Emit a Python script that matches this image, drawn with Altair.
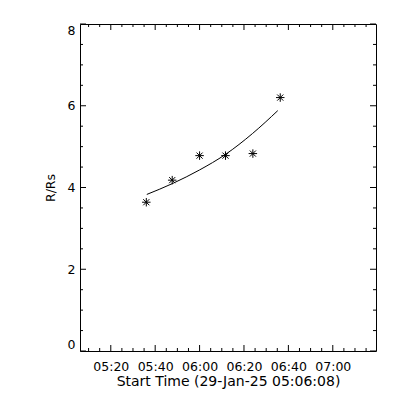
import altair as alt
import pandas as pd

# Observed points (time, R/Rs)
obs_times = ["2025-01-29T05:36:00", "2025-01-29T05:47:40", "2025-01-29T06:00:00",
             "2025-01-29T06:11:40", "2025-01-29T06:24:00", "2025-01-29T06:36:20"]
obs_r = [3.64, 4.18, 4.78, 4.78, 4.83, 6.20]

# Fitted curve
fit_times = ["2025-01-29T05:36:13", "2025-01-29T05:47:56", "2025-01-29T06:00:00",
             "2025-01-29T06:11:40", "2025-01-29T06:23:50", "2025-01-29T06:35:13"]
fit_r = [3.83, 4.10, 4.43, 4.81, 5.32, 5.88]

x_major = ["2025-01-29T05:20:00", "2025-01-29T05:40:00", "2025-01-29T06:00:00",
           "2025-01-29T06:20:00", "2025-01-29T06:40:00", "2025-01-29T07:00:00"]
x_minor = ["2025-01-29T05:%02d:00" % m for m in (10, 15, 25, 30, 35, 45, 50, 55)] + \
          ["2025-01-29T06:%02d:00" % m for m in (5, 10, 15, 25, 30, 35, 45, 50, 55)] + \
          ["2025-01-29T07:%02d:00" % m for m in (5, 10, 15)]
y_major = [0, 2, 4, 6, 8]
y_minor = [0.5, 1, 1.5, 2.5, 3, 3.5, 4.5, 5, 5.5, 6.5, 7, 7.5]

x_domain = [alt.DateTime(year=2025, month=1, date=29, hours=5, minutes=6, seconds=8),
            alt.DateTime(year=2025, month=1, date=29, hours=7, minutes=19, seconds=28)]

W, H = 296, 327
FONT = "DejaVu Sans"

xscale = alt.Scale(domain=x_domain)
yscale = alt.Scale(domain=[0, 8], nice=False, zero=False)

obs = pd.DataFrame({"t": obs_times, "r": obs_r})
fit = pd.DataFrame({"t": fit_times, "r": fit_r})

star = "M-1,0L1,0M0,-1L0,1M-0.72,-0.72L0.72,0.72M-0.72,0.72L0.72,-0.72"

base_x = alt.X("t:T", scale=xscale,
               axis=alt.Axis(values=x_major, format="%H:%M", tickSize=0, domain=False,
                             grid=False, labelPadding=9, labelFontSize=12.5, labelFont=FONT,
                             labelColor="black", title="Start Time (29-Jan-25 05:06:08)",
                             titleFont=FONT, titleFontSize=14, titleFontWeight="normal",
                             titleColor="black", titlePadding=2))
base_y = alt.Y("r:Q", scale=yscale,
               axis=alt.Axis(values=y_major, format="d", tickSize=0, domain=False, grid=False,
                             labelPadding=5, labelFontSize=12.5, labelFont=FONT,
                             labelFlush=True, labelColor="black", title="R/Rs", titleFont=FONT,
                             titleFontSize=12.5, titleFontWeight="normal", titleColor="black",
                             titlePadding=10))

points = alt.Chart(obs).mark_point(shape=star, size=72, filled=False, stroke="black",
                                   strokeWidth=1, opacity=1).encode(x=base_x, y=base_y)
line = alt.Chart(fit).mark_line(color="black", strokeWidth=1, interpolate="monotone").encode(
    x=alt.X("t:T", scale=xscale), y=alt.Y("r:Q", scale=yscale))

def xticks(vals, length):
    df = pd.DataFrame({"t": vals})
    bot = alt.Chart(df).mark_rule(color="black", strokeWidth=1).encode(
        x=alt.X("t:T", scale=xscale), y=alt.value(H), y2=alt.value(H - length))
    top = alt.Chart(df).mark_rule(color="black", strokeWidth=1).encode(
        x=alt.X("t:T", scale=xscale), y=alt.value(0), y2=alt.value(length))
    return [bot, top]

def yticks(vals, length):
    df = pd.DataFrame({"r": vals})
    left = alt.Chart(df).mark_rule(color="black", strokeWidth=1).encode(
        y=alt.Y("r:Q", scale=yscale), x=alt.value(0), x2=alt.value(length))
    right = alt.Chart(df).mark_rule(color="black", strokeWidth=1).encode(
        y=alt.Y("r:Q", scale=yscale), x=alt.value(W), x2=alt.value(W - length))
    return [left, right]

layers = [points, line] + xticks(x_major, 6) + xticks(x_minor, 3) + \
         yticks(y_major, 6) + yticks(y_minor, 3)

chart = alt.layer(*layers).properties(
    width=W, height=H,
    autosize=alt.AutoSizeParams(type="none"),
    padding={"left": 72, "top": 16, "right": 16, "bottom": 41},
    background="white",
).configure_view(stroke="black", strokeWidth=1)

chart.save("out.html", embed_options={"renderer": "svg", "actions": False})
